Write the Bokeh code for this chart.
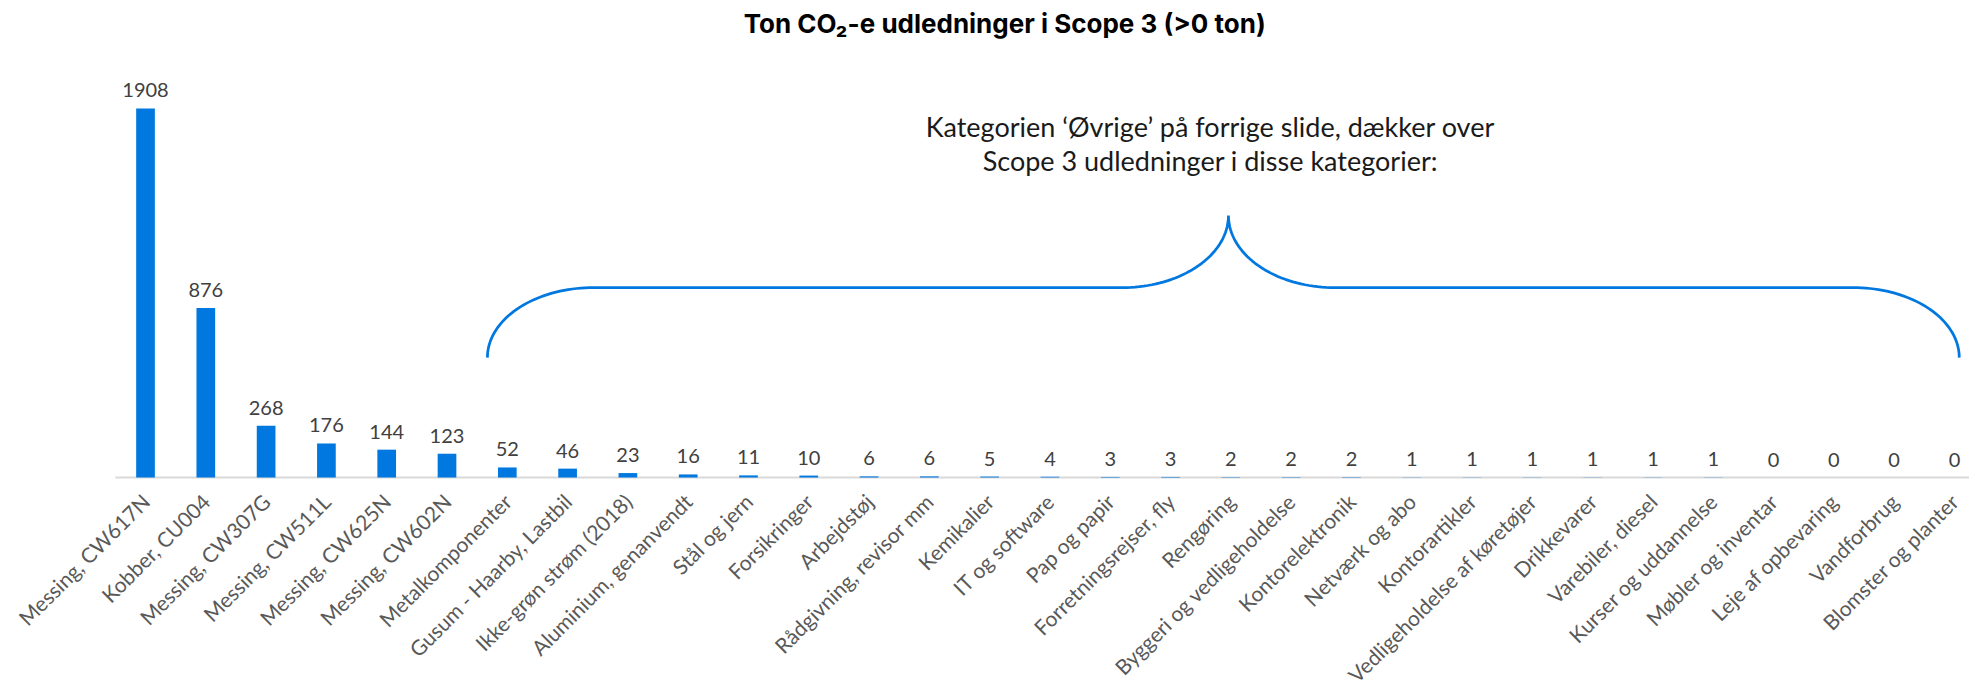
import numpy as np
from bokeh.plotting import figure
from bokeh.models import Range1d, FixedTicker, ColumnDataSource
from bokeh.core.properties import value
from bokeh.embed import file_html
from bokeh.resources import INLINE

# ---- data ----
categories = [
    "Messing, CW617N", "Kobber, CU004", "Messing, CW307G", "Messing, CW511L",
    "Messing, CW625N", "Messing, CW602N", "Metalkomponenter", "Gusum - Haarby, Lastbil",
    "Ikke-grøn strøm (2018)", "Aluminium, genanvendt", "Stål og jern", "Forsikringer",
    "Arbejdstøj", "Rådgivning, revisor mm", "Kemikalier", "IT og software",
    "Pap og papir", "Forretningsrejser, fly", "Rengøring", "Byggeri og vedligeholdelse",
    "Kontorelektronik", "Netværk og abo", "Kontorartikler", "Vedligeholdelse af køretøjer",
    "Drikkevarer", "Varebiler, diesel", "Kurser og uddannelse", "Møbler og inventar",
    "Leje af opbevaring", "Vandforbrug", "Blomster og planter",
]
values = [1908, 876, 268, 176, 144, 123, 52, 46, 23, 16, 11, 10, 6, 6, 5, 4, 3, 3,
          2, 2, 2, 1, 1, 1, 1, 1, 1, 0, 0, 0, 0]
value_labels = [str(v) for v in values]
title_text = "Ton CO₂-e udledninger i Scope 3 (>0 ton)"
note_lines = ["Kategorien ‘Øvrige’ på forrige slide, dækker over",
              "Scope 3 udledninger i disse kategorier:"]

BLUE = "#0078E0"
idx = list(range(len(categories)))

p = figure(width=1969, height=683,
           x_range=Range1d(-2.405, 30.25), y_range=Range1d(-1065, 2425),
           output_backend="svg", toolbar_location=None,
           y_axis_location=None,
           min_border_left=0, min_border_right=0,
           min_border_top=8, min_border_bottom=0)
p.outline_line_color = None
p.xgrid.grid_line_color = None
p.ygrid.grid_line_color = None
p.background_fill_color = "white"
p.border_fill_color = "white"

# category axis baseline (starts half a slot left of the first bar)
p.segment(x0=[-0.5], y0=[0], x1=[31], y1=[0], line_color="#D9D9D9", line_width=2)

src = ColumnDataSource(dict(x=idx, top=values, label=value_labels))
p.vbar(x="x", top="top", bottom=0, width=0.31, source=src,
       fill_color=BLUE, line_color=None)

p.text(x="x", y="top", text="label", source=src,
       text_align="center", text_baseline="alphabetic", y_offset=-18,
       text_font=value("Lato"), text_font_size="20px", text_color="#404040")

ax = p.xaxis[0]
ax.fixed_location = 0
ax.ticker = FixedTicker(ticks=idx)
ax.major_label_overrides = {i: c for i, c in enumerate(categories)}
ax.major_label_orientation = np.pi / 4
ax.major_label_text_font = "Lato"
ax.major_label_text_font_size = "21px"
ax.major_label_text_color = "#595959"
ax.major_label_standoff = 14
ax.major_tick_line_color = None
ax.minor_tick_line_color = None
ax.axis_line_color = None

# ---- title ----
p.text(x=[14.25], y=[2347], text=[title_text], text_align="center",
       text_baseline="middle", text_font=value("Inter"), text_font_style="bold",
       text_font_size="26px", text_color="#000000")

# ---- note ----
p.text(x=[17.66, 17.66], y=[1814, 1638], text=note_lines, text_align="center",
       text_baseline="middle", text_font=value("Lato"),
       text_font_size="27px", text_color="#1A1A1A")

# ---- brace ----
x_left, x_right, x_mid = 5.67, 30.08, 17.96
y_end, y_bar, y_tip = 620.0, 982.0, 1355.0
rx = 1.76
ry1 = y_bar - y_end
ry2 = y_tip - y_bar
n = 40
xs, ys = [], []
t = np.linspace(np.pi, np.pi / 2, n)
xs += list(x_left + rx + rx * np.cos(t)); ys += list(y_end + ry1 * np.sin(t))
t = np.linspace(-np.pi / 2, 0, n)
xs += list(x_mid - rx + rx * np.cos(t)); ys += list(y_tip + ry2 * np.sin(t))
t = np.linspace(np.pi, 3 * np.pi / 2, n)
xs += list(x_mid + rx + rx * np.cos(t)); ys += list(y_tip + ry2 * np.sin(t))
t = np.linspace(np.pi / 2, 0, n)
xs += list(x_right - rx + rx * np.cos(t)); ys += list(y_end + ry1 * np.sin(t))
p.line(xs, ys, line_color=BLUE, line_width=2.75)

open("out.html", "w").write(file_html(p, INLINE))
